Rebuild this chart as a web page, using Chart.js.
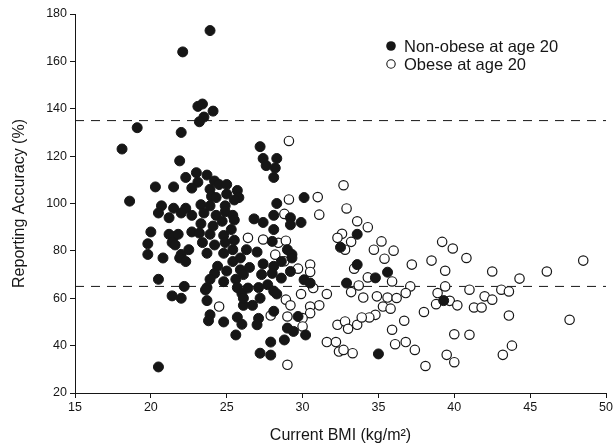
<!DOCTYPE html>
<html>
<head>
<meta charset="utf-8">
<script src="https://cdn.jsdelivr.net/npm/chart.js@4"></script>
<style>
  html, body { margin: 0; padding: 0; background: #fff; }
  #wrap { width: 615px; height: 447px; }
</style>
</head>
<body>
<div id="wrap"><canvas id="c" width="615" height="447"></canvas></div>
<script>
const nonObeseBmi = [
  23.9, 22.1, 23.1, 23.4, 24.1, 23.5, 23.2, 19.1, 22.0, 18.1,
  21.9, 23.0, 23.7, 22.3, 23.1, 24.2, 24.5, 25.0, 20.3, 21.5,
  22.7, 23.9, 25.7, 24.0, 24.3, 25.0, 25.8, 18.6, 25.5, 20.7,
  23.3, 23.9, 24.9, 21.5, 22.3, 20.5, 21.2, 22.0, 22.7, 23.5,
  24.3, 24.9, 25.4, 24.7, 25.5, 23.3, 24.1, 20.0, 21.2, 21.5,
  21.8, 22.7, 23.2, 23.9, 24.8, 25.3, 25.5, 19.8, 21.4, 21.6,
  23.4, 24.2, 24.9, 19.8, 20.8, 22.0, 22.5, 23.7, 24.8, 25.4,
  21.9, 22.3, 24.4, 24.2, 23.9, 23.7, 25.0, 24.8, 25.6, 25.9,
  20.5, 22.2, 21.4, 22.0, 23.6, 23.7, 25.7, 26.0, 26.1, 23.9,
  23.8, 24.8, 25.7, 26.0, 25.6, 20.5, 25.4, 25.9, 27.2, 27.4,
  28.3, 27.6, 28.2, 28.1, 30.1, 28.3, 28.1, 26.8, 27.4, 29.2,
  29.2, 29.9, 28.1, 28.0, 33.6, 32.5, 26.3, 27.0, 29.0, 29.3,
  26.5, 27.4, 28.1, 28.6, 29.3, 29.2, 28.6, 26.1, 27.3, 28.0,
  27.7, 26.4, 27.1, 28.1, 26.1, 27.2, 28.3, 26.7, 28.1, 27.1,
  27.0, 29.7, 29.0, 29.4, 30.2, 28.8, 27.9, 27.2, 27.9, 30.1,
  30.5, 33.6, 32.9, 34.8, 35.6, 35.0, 39.3
];
const nonObeseAcc = [
  173, 164, 141, 142, 139, 136.5, 134.5, 132, 130, 123,
  118, 113, 112, 111, 109, 109.5, 108, 108, 107, 107,
  106.5, 106, 105.5, 103, 102.5, 104, 102.5, 101, 101.5, 99,
  99.5, 99, 99, 98, 98, 96, 94, 96, 95, 96,
  95, 96.5, 95, 92.5, 93, 91.5, 90.5, 88, 87, 86,
  87, 88, 87.5, 87, 86.5, 89, 84.5, 83, 83.5, 82.5,
  83.5, 82.5, 83.5, 78.5, 77, 78.5, 80.5, 79, 79, 80.5,
  77, 75.5, 73.5, 70.5, 68, 64.5, 71.5, 67, 68, 72,
  68, 65, 61, 60, 63.5, 59, 64.5, 62, 57, 53,
  50.5, 50, 52, 49, 44.5, 31, 75.5, 77, 124, 119,
  119, 116, 115, 111, 102.5, 100, 95, 93.5, 92, 94,
  91, 92, 89, 84, 87, 81.5, 80.5, 79.5, 80.5, 78.5,
  73, 74.5, 73.5, 75.5, 77, 71.3, 68.5, 70, 70, 70.5,
  65.7, 64.3, 64.5, 63, 60, 60, 61.8, 57, 54.5, 51.5,
  48.8, 52.3, 47.4, 46, 44.5, 42.4, 41.5, 36.8, 36, 67.8,
  66.4, 74.2, 66.4, 68.6, 71, 36.5, 59
];
const obeseBmi = [
  29.1, 32.7, 31.0, 29.1, 32.9, 31.1, 28.8, 33.6, 34.3, 26.4,
  27.4, 28.4, 28.9, 32.6, 32.3, 33.2, 32.8, 35.2, 34.7, 36.0,
  35.4, 28.2, 28.8, 29.7, 30.5, 30.5, 30.7, 29.9, 31.6, 31.1,
  30.5, 30.5, 28.9, 29.2, 29.0, 30.0, 30.0, 27.9, 29.0, 33.4,
  34.3, 33.2, 34.0, 33.7, 35.9, 34.9, 35.6, 36.2, 35.3, 35.8,
  34.8, 34.4, 32.3, 32.8, 33.0, 33.6, 33.9, 31.6, 32.2, 32.4,
  32.7, 33.3, 35.9, 36.1, 37.2, 38.5, 40.8, 39.4, 37.1, 36.8,
  39.4, 38.9, 38.8, 39.7, 40.2, 38.0, 36.7, 41.0, 42.0, 42.5,
  43.1, 43.6, 44.3, 42.5, 46.1, 48.5, 41.3, 41.8, 43.6, 47.6,
  40.0, 41.0, 36.8, 37.4, 38.1, 39.5, 40.0, 43.8, 43.2, 39.2,
  39.9, 24.5
];
const obeseAcc = [
  126.4, 107.7, 102.7, 101.7, 97.9, 95.3, 95.6, 92.5, 90, 85.5,
  84.8, 83.4, 84.3, 87.2, 85.5, 83.8, 80.5, 84, 80.5, 80.1,
  76.7, 78.4, 75.6, 72.5, 74.2, 71.1, 64.3, 61.8, 61.8, 57,
  56.5, 53.7, 59.4, 57, 52.3, 51.6, 48.1, 52.7, 31.9, 72.5,
  68.8, 62.6, 60.3, 65.4, 67.1, 60.8, 60.3, 60.1, 56.5, 55.6,
  53, 51.9, 48.8, 50.2, 47.1, 48.8, 51.9, 41.5, 41.5, 37.5,
  38.2, 36.8, 46.7, 40.6, 74.2, 75.9, 77, 71.6, 65, 62.2,
  65, 62.2, 57.5, 58.9, 57, 54.2, 50.5, 63.6, 60.8, 59.4,
  63.6, 62.9, 68.3, 71.3, 71.3, 75.9, 56.1, 56.1, 52.7, 50.9,
  44.8, 44.6, 41.5, 38.2, 31.4, 36.1, 33, 40, 36.1, 83.8,
  81, 56.5
];
const refLines = [65, 135];
const xRange = [15, 50];
const yRange = [20, 180];
const seriesNames = ['Non-obese at age 20', 'Obese at age 20'];

const FONT = "'Liberation Sans', Arial, sans-serif";
const INK = '#161616';

const toPts = (xs, ys) => xs.map((x, i) => ({ x, y: ys[i] }));

const refDatasets = refLines.map(v => ({
  type: 'line',
  data: [{ x: xRange[0], y: v }, { x: xRange[1], y: v }],
  borderColor: INK, borderWidth: 1, borderDash: [9, 7],
  pointRadius: 0, fill: false, order: 5,
}));

// leyenda dibujada a mano, arriba a la derecha
const legendPlugin = {
  id: 'miniLegend',
  afterDraw(chart) {
    const ctx = chart.ctx;
    const a = chart.chartArea;
    const x0 = a.left + 316, y0 = a.top + 32, gap = 18;
    ctx.save();
    ctx.font = '16.5px ' + FONT;
    ctx.textBaseline = 'middle';
    seriesNames.forEach((name, i) => {
      const cy = y0 + i * gap;
      ctx.beginPath();
      ctx.arc(x0, cy, i === 0 ? 4.8 : 4.2, 0, Math.PI * 2);
      if (i === 0) { ctx.fillStyle = INK; ctx.fill(); }
      else { ctx.fillStyle = '#fff'; ctx.fill(); ctx.lineWidth = 1.1; ctx.strokeStyle = INK; ctx.stroke(); }
      ctx.fillStyle = INK;
      ctx.fillText(name, x0 + 13, cy + 1);
    });
    ctx.restore();
  },
};

new Chart(document.getElementById('c'), {
  type: 'scatter',
  data: {
    datasets: [
      {
        label: seriesNames[0], data: toPts(nonObeseBmi, nonObeseAcc),
        backgroundColor: INK, borderColor: INK, borderWidth: 1, pointRadius: 5, order: 1,
      },
      {
        label: seriesNames[1], data: toPts(obeseBmi, obeseAcc),
        backgroundColor: '#fff', borderColor: INK, borderWidth: 1.2, pointRadius: 4.7, order: 2,
      },
      ...refDatasets,
    ],
  },
  options: {
    responsive: false, animation: false,
    layout: { padding: { top: 14, right: 9, left: 0, bottom: 0 } },
    plugins: { legend: { display: false }, tooltip: { enabled: false } },
    scales: {
      x: {
        type: 'linear', min: xRange[0], max: xRange[1],
        afterFit: s => { s.height = 54; },
        ticks: { stepSize: 5, color: INK, font: { family: FONT, size: 12.5 }, padding: 2 },
        grid: { drawOnChartArea: false, drawTicks: true, tickLength: 5, color: INK },
        border: { display: true, color: INK, width: 1 },
        title: { display: true, text: 'Current BMI (kg/m²)', color: INK, font: { family: FONT, size: 16 }, padding: { top: 0, bottom: 2 } },
      },
      y: {
        type: 'linear', min: yRange[0], max: yRange[1],
        afterFit: s => { s.width = 75; },
        ticks: { stepSize: 20, color: INK, font: { family: FONT, size: 12.5 }, padding: 3 },
        grid: { drawOnChartArea: false, drawTicks: true, tickLength: 5, color: INK },
        border: { display: true, color: INK, width: 1 },
        title: { display: true, text: 'Reporting Accuracy (%)', color: INK, font: { family: FONT, size: 16 }, padding: { top: 10, bottom: 0 } },
      },
    },
  },
  plugins: [legendPlugin],
});
</script>
</body>
</html>
